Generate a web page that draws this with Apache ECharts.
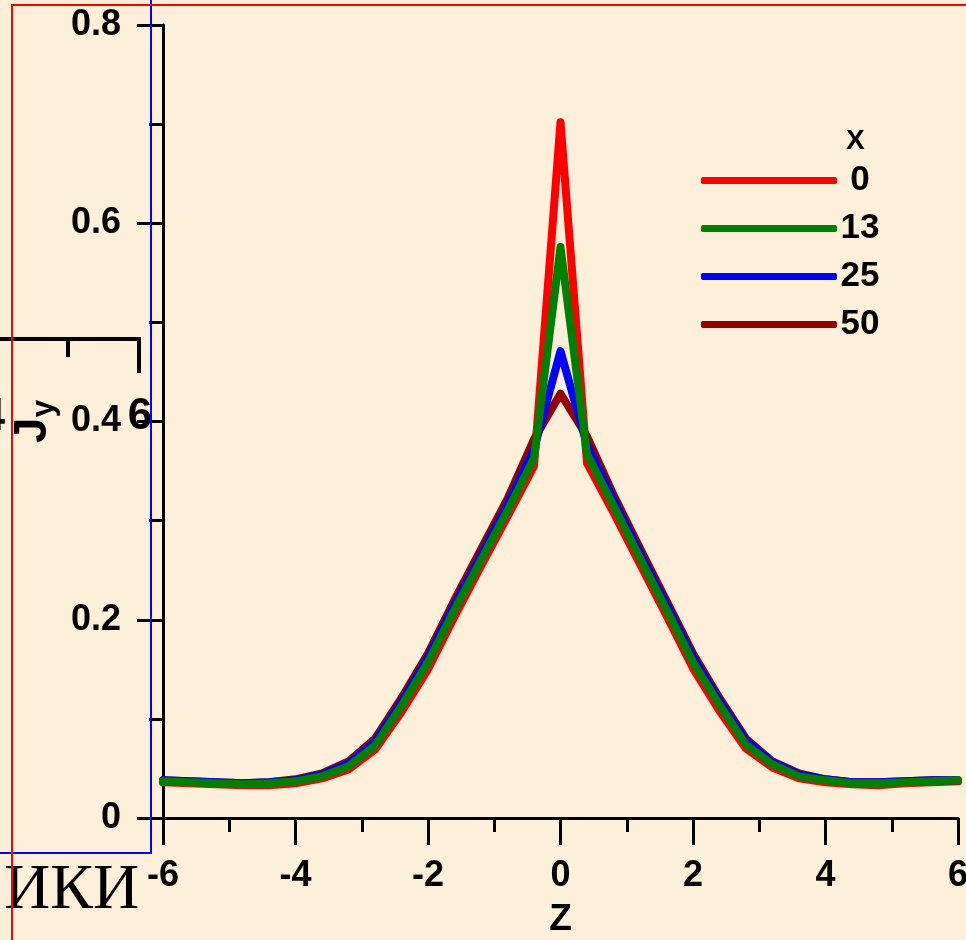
<!DOCTYPE html>
<html>
<head>
<meta charset="utf-8">
<script src="https://cdn.jsdelivr.net/npm/echarts@6/dist/echarts.min.js"></script>
<style>
  html, body { margin: 0; padding: 0; background: #fcf0db; }
  #chart { width: 966px; height: 940px; }
</style>
</head>
<body>
<div id="chart"></div>
<script>
// z coordinates of the computed points
const zValues = [-6, -5.6, -5.2, -4.8, -4.4, -4.0, -3.6, -3.2, -2.8, -2.4, -2.0, -1.6, -1.2, -0.8, -0.4, 0,
                 0.4, 0.8, 1.2, 1.6, 2.0, 2.4, 2.8, 3.2, 3.6, 4.0, 4.4, 4.8, 5.2, 5.6, 6];

// Jy for X = 0
const jyX0  = [0.036, 0.035, 0.034, 0.033, 0.033, 0.035, 0.040, 0.049, 0.069, 0.107, 0.150, 0.203, 0.254, 0.304, 0.355, 0.702,
               0.358, 0.308, 0.256, 0.204, 0.151, 0.108, 0.070, 0.051, 0.040, 0.036, 0.034, 0.033, 0.035, 0.036, 0.037];
// Jy for X = 13
const jyX13 = [0.037, 0.036, 0.035, 0.034, 0.035, 0.037, 0.042, 0.052, 0.073, 0.113, 0.157, 0.210, 0.260, 0.310, 0.363, 0.576,
               0.367, 0.315, 0.262, 0.210, 0.157, 0.114, 0.074, 0.054, 0.042, 0.038, 0.035, 0.035, 0.036, 0.037, 0.038];
// Jy for X = 25
const jyX25 = [0.038, 0.037, 0.036, 0.035, 0.036, 0.038, 0.044, 0.055, 0.077, 0.117, 0.162, 0.215, 0.265, 0.316, 0.372, 0.471,
               0.376, 0.321, 0.267, 0.215, 0.162, 0.118, 0.078, 0.056, 0.044, 0.039, 0.036, 0.036, 0.037, 0.038, 0.038];
// Jy for X = 50
const jyX50 = [0.038, 0.037, 0.036, 0.035, 0.036, 0.039, 0.045, 0.057, 0.080, 0.121, 0.166, 0.220, 0.271, 0.322, 0.382, 0.428,
               0.385, 0.326, 0.272, 0.219, 0.166, 0.121, 0.080, 0.057, 0.045, 0.039, 0.036, 0.036, 0.037, 0.038, 0.038];

const seriesNames = ['0', '13', '25', '50'];
const seriesColors = ['#ff0000', '#008000', '#0000ff', '#960000'];
const seriesValues = [jyX0, jyX13, jyX25, jyX50];
const seriesZ = [2, 5, 4, 3];

const xTicks = { min: -6, max: 6, interval: 2 };
const yTicks = { min: 0, max: 0.8, interval: 0.2 };

const FONT = '"Liberation Sans Narrow", "Liberation Sans", Arial, sans-serif';

const chart = echarts.init(document.getElementById('chart'), null, { renderer: 'canvas' });

const series = seriesNames.map((name, i) => ({
  name: name,
  type: 'line',
  data: zValues.map((z, k) => [z, seriesValues[i][k]]),
  symbol: 'none',
  z: seriesZ[i],
  lineStyle: { color: seriesColors[i], width: 8, cap: 'round', join: 'round' },
  itemStyle: { color: seriesColors[i] },
  emphasis: { disabled: true }
}));

const axisCommon = {
  axisLine: { show: true, onZero: false, lineStyle: { color: '#000', width: 3 } },
  axisTick: { show: true, inside: false, length: 27, lineStyle: { color: '#000', width: 3 } },
  minorTick: { show: true, splitNumber: 2, length: 14, lineStyle: { color: '#000', width: 3 } },
  splitLine: { show: false },
  minorSplitLine: { show: false }
};

chart.setOption({
  backgroundColor: '#fcf0db',
  animation: false,
  textStyle: { fontFamily: FONT },
  grid: { left: 163, right: 8, top: 25, bottom: 122, containLabel: false, outerBoundsMode: 'none' },
  legend: {
    data: seriesNames,
    orient: 'vertical',
    left: 696,
    top: 158,
    icon: 'roundRect',
    itemWidth: 136,
    itemHeight: 7,
    itemGap: 13,
    selectedMode: false,
    formatter: '{a|{name}}',
    textStyle: {
      color: '#000',
      fontFamily: FONT,
      fontWeight: 'bold',
      fontSize: 35,
      lineHeight: 34,
      rich: { a: { width: 36, align: 'center', fontSize: 35, fontWeight: 'bold', fontFamily: FONT, color: '#000', lineHeight: 34 } }
    }
  },
  xAxis: Object.assign({
    type: 'value',
    min: xTicks.min, max: xTicks.max, interval: xTicks.interval,
    name: 'Z',
    nameLocation: 'middle',
    nameGap: 83,
    nameTextStyle: { color: '#000', fontFamily: FONT, fontWeight: 'bold', fontSize: 37 },
    axisLabel: { color: '#000', fontFamily: FONT, fontWeight: 'bold', fontSize: 36, margin: 40 }
  }, axisCommon),
  yAxis: Object.assign({
    type: 'value',
    min: yTicks.min, max: yTicks.max, interval: yTicks.interval,
    name: '{j|J}{s|y}',
    nameLocation: 'middle',
    nameRotate: 90,
    nameGap: 86,
    nameTextStyle: {
      color: '#000',
      rich: {
        j: { fontFamily: FONT, fontWeight: 'bold', fontSize: 46, color: '#000' },
        s: { fontFamily: FONT, fontWeight: 'bold', fontSize: 32, color: '#000', padding: [22, 0, 0, 0] }
      }
    },
    axisLabel: { color: '#000', fontFamily: FONT, fontWeight: 'bold', fontSize: 36, margin: 42 }
  }, axisCommon, { axisTick: { show: true, inside: false, length: 26, lineStyle: { color: '#000', width: 3 } } }),
  graphic: [
    { type: 'text', left: 846, top: 127, z: 10,
      style: { text: 'X', fill: '#000', font: 'bold 28px ' + FONT } },
    // overlapping fragments from the source slide
    { type: 'polyline', z: 10, shape: { points: [[0, 339], [139, 339], [139, 373]] },
      style: { stroke: '#000', lineWidth: 4, fill: null } },
    { type: 'line', z: 10, shape: { x1: 68, y1: 339, x2: 68, y2: 357 },
      style: { stroke: '#000', lineWidth: 4 } },
    { type: 'text', z: 10, x: 5, y: 417,
      style: { text: '4', fill: '#000', font: 'bold 46px ' + FONT, align: 'right', verticalAlign: 'middle' } },
    { type: 'text', z: 10, x: 140, y: 417,
      style: { text: '6', fill: '#000', font: 'bold 44px ' + FONT, align: 'center', verticalAlign: 'middle' } },
    { type: 'polyline', z: 11, shape: { points: [[151, -10], [151, 853], [-10, 853]] },
      style: { stroke: '#0000ff', lineWidth: 2, fill: null } },
    { type: 'polyline', z: 11, shape: { points: [[980, 5], [12, 5], [12, 950]] },
      style: { stroke: '#ff0000', lineWidth: 2, fill: null } },
    { type: 'text', z: 10, x: 4, y: 891,
      style: { text: 'ИКИ', fill: '#000', font: '64px "Liberation Serif", "DejaVu Serif", serif', align: 'left', verticalAlign: 'middle' } }
  ],
  series: series
});
</script>
</body>
</html>
